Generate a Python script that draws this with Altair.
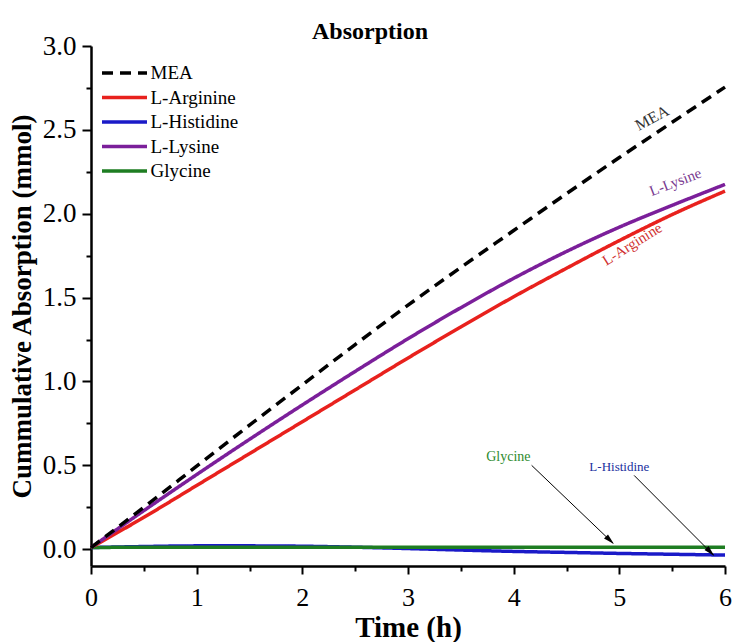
import math
import altair as alt
import pandas as pd

# ---------------- data ----------------
time_h = [0, 0.5, 1, 1.5, 2, 2.5, 3, 3.5, 4, 4.5, 5, 5.5, 6]
mea = [0.01, 0.25, 0.495, 0.74, 0.98, 1.22, 1.455, 1.68, 1.90, 2.12, 2.335, 2.545, 2.755]
l_arginine = [0.01, 0.19, 0.38, 0.57, 0.76, 0.95, 1.14, 1.325, 1.505, 1.675, 1.84, 1.995, 2.135]
l_histidine = [0.01, 0.016, 0.02, 0.02, 0.018, 0.012, 0.004, -0.005, -0.013, -0.019, -0.025, -0.030, -0.035]
l_lysine = [0.01, 0.23, 0.445, 0.655, 0.86, 1.06, 1.255, 1.44, 1.615, 1.775, 1.92, 2.05, 2.175]
glycine = [0.01, 0.012, 0.012, 0.012, 0.012, 0.012, 0.012, 0.012, 0.012, 0.012, 0.012, 0.012, 0.012]

series_names = ["MEA", "L-Arginine", "L-Histidine", "L-Lysine", "Glycine"]
series_colors = ["#000000", "#e8211d", "#1a1ac8", "#7b1f9a", "#1e7d22"]
series_dash = [[11, 7], [1, 0], [1, 0], [1, 0], [1, 0]]
draw_order = ["L-Histidine", "Glycine", "L-Arginine", "L-Lysine", "MEA"]

# in-plot labels
ann_text = ["MEA", "L-Lysine", "L-Arginine", "Glycine", "L-Histidine"]
ann_t = [5.31, 5.53, 5.12, 3.95, 5.0]
ann_v = [2.57, 2.19, 1.82, 0.55, 0.49]
ann_angle = [332, 339, 328, 0, 0]
ann_color = ["#333333", "#7a3a90", "#d03030", "#2e8b2e", "#2030a0"]
ann_size = [16, 15, 15, 14, 13]

# arrows (from label to curve)
arrow_t0 = [4.17, 5.14]
arrow_v0 = [0.50, 0.44]
arrow_t1 = [4.94, 5.89]
arrow_v1 = [0.036, -0.034]

x_major = [0, 1, 2, 3, 4, 5, 6]
x_minor = [0.5, 1.5, 2.5, 3.5, 4.5, 5.5]
y_major = [0.0, 0.5, 1.0, 1.5, 2.0, 2.5, 3.0]
y_minor = [0.25, 0.75, 1.25, 1.75, 2.25, 2.75]

X_DOM = [0, 6]
Y_DOM = [-0.1, 3.0]
W, H = 634, 520
FONT = "Liberation Serif"

# ---------------- tables ----------------
values = {
    "MEA": mea, "L-Arginine": l_arginine, "L-Histidine": l_histidine,
    "L-Lysine": l_lysine, "Glycine": glycine,
}
rows = []
for name in draw_order:
    for t, v in zip(time_h, values[name]):
        rows.append({"series": name, "t": t, "v": v})
df = pd.DataFrame(rows)

ann_df = pd.DataFrame({
    "label": ann_text, "at": ann_t, "av": ann_v, "angle": ann_angle,
    "color": ann_color, "size": ann_size,
})

px_t = W / (X_DOM[1] - X_DOM[0])
px_v = H / (Y_DOM[1] - Y_DOM[0])
head_t, head_v, head_a = [], [], []
for t0, v0, t1, v1 in zip(arrow_t0, arrow_v0, arrow_t1, arrow_v1):
    dx = (t1 - t0) * px_t
    dy = (v0 - v1) * px_v
    L = math.hypot(dx, dy)
    ux, uy = dx / L, dy / L
    head_t.append(t1 - 6 * ux / px_t)
    head_v.append(v1 + 6 * uy / px_v)
    head_a.append(math.degrees(math.atan2(dx, -dy)) % 360)
arrow_df = pd.DataFrame({"t0": arrow_t0, "v0": arrow_v0, "t1": arrow_t1, "v1": arrow_v1})
head_df = pd.DataFrame({"ht": head_t, "hv": head_v, "ha": head_a})

xscale = alt.Scale(domain=X_DOM, nice=False, zero=False)
yscale = alt.Scale(domain=Y_DOM, nice=False, zero=False)

axis_common = dict(
    grid=False, domainColor="black", domainWidth=2.5, tickColor="black",
    tickWidth=2, labelFont=FONT, labelColor="black", titleFont=FONT,
    titleColor="black", titleFontWeight="bold",
)

x_axis = alt.Axis(values=x_major, format="d", title="Time (h)", orient="bottom",
                  tickSize=8, labelFontSize=26, labelPadding=10, titleFontSize=29,
                  titlePadding=3, labelFlush=False, **axis_common)
y_axis = alt.Axis(values=y_major, format=".1f", title="Cummulative Absorption (mmol)",
                  orient="left", tickSize=9, labelFontSize=27, labelPadding=6,
                  titleFontSize=27, titlePadding=6, labelFlush=False, **axis_common)
x_axis_minor = alt.Axis(values=x_minor, labels=False, title=None, orient="bottom",
                        domain=False, grid=False, ticks=True, tickSize=5,
                        tickWidth=2, tickColor="black")
y_axis_minor = alt.Axis(values=y_minor, labels=False, title=None, orient="left",
                        domain=False, grid=False, ticks=True, tickSize=5,
                        tickWidth=2, tickColor="black")

legend = alt.Legend(
    title=None, orient="none", legendX=22.5, legendY=16, symbolType="M-2.5,0H2.5",
    symbolSize=324, symbolStrokeWidth=3.5, labelFont=FONT, labelFontSize=19,
    labelColor="black", labelOffset=15, rowPadding=3.5, padding=0,
)

lines = alt.Chart(df).mark_line(strokeWidth=3.5, interpolate="monotone").encode(
    x=alt.X("t:Q", scale=xscale, axis=x_axis),
    y=alt.Y("v:Q", scale=yscale, axis=y_axis),
    color=alt.Color("series:N", scale=alt.Scale(domain=series_names, range=series_colors),
                    legend=legend),
    strokeDash=alt.StrokeDash("series:N", scale=alt.Scale(domain=series_names, range=series_dash),
                              legend=legend),
)

labels = alt.Chart(ann_df).mark_text(font=FONT, align="center", baseline="middle").encode(
    x=alt.X("at:Q", scale=xscale, axis=x_axis_minor),
    y=alt.Y("av:Q", scale=yscale, axis=y_axis_minor),
    text="label:N",
    angle=alt.Angle("angle:Q", scale=None),
    color=alt.Color("color:N", scale=None),
    size=alt.Size("size:Q", scale=None),
)

arrows = alt.Chart(arrow_df).mark_rule(color="black", strokeWidth=1).encode(
    x=alt.X("t0:Q", scale=xscale, axis=None),
    y=alt.Y("v0:Q", scale=yscale, axis=None),
    x2="t1:Q", y2="v1:Q",
)

heads = alt.Chart(head_df).mark_point(shape="M0,-1.4L0.55,0.7L-0.55,0.7Z", filled=True,
                                      color="black", opacity=1, size=110).encode(
    x=alt.X("ht:Q", scale=xscale, axis=None),
    y=alt.Y("hv:Q", scale=yscale, axis=None),
    angle=alt.Angle("ha:Q", scale=None),
)

chart = alt.layer(labels, lines, arrows, heads).resolve_axis(
    x="independent", y="independent"
).properties(
    width=W, height=H,
    title=alt.TitleParams("Absorption", font=FONT, fontSize=24, fontWeight="bold",
                          color="black", anchor="middle", dx=-38, offset=-12),
    padding={"left": 91, "top": 46, "right": 9, "bottom": 76},
    autosize=alt.AutoSizeParams(type="none"),
    background="white",
).configure(
    font=FONT
).configure_axis(
    labelFont=FONT, titleFont=FONT
).configure_legend(
    labelFont=FONT
).configure_title(
    font=FONT
).configure_view(stroke=None)

chart.save("out.html", embed_options={"renderer": "svg", "actions": False})
